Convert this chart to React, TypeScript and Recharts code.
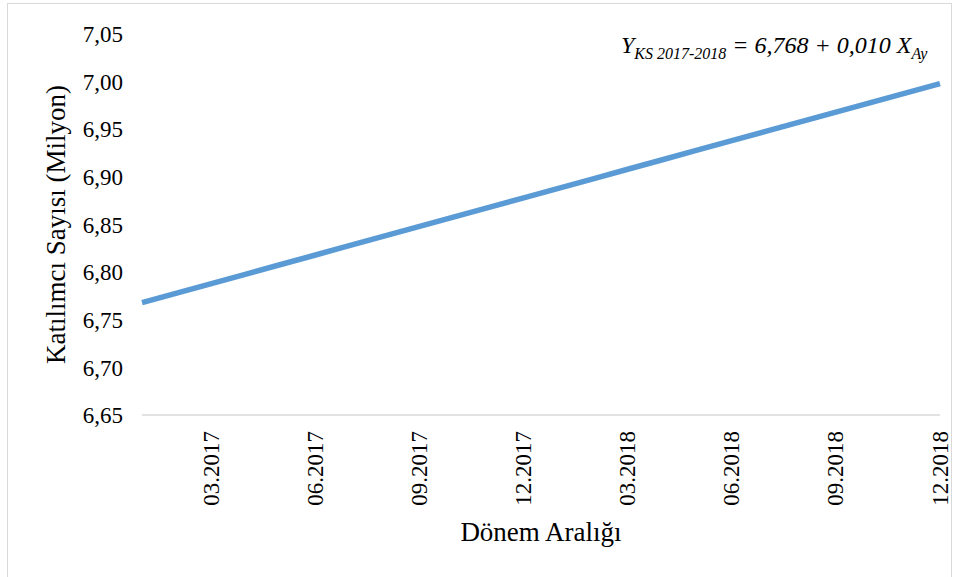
import { LineChart, Line, XAxis, YAxis } from 'recharts';

const FONT = 'Liberation Serif';
const LINE = '#5b9bd5';
const AXIS_LINE = '#d9d9d9';

const months = [
  '01.2017', '02.2017', '03.2017', '04.2017', '05.2017', '06.2017',
  '07.2017', '08.2017', '09.2017', '10.2017', '11.2017', '12.2017',
  '01.2018', '02.2018', '03.2018', '04.2018', '05.2018', '06.2018',
  '07.2018', '08.2018', '09.2018', '10.2018', '11.2018', '12.2018',
];

const participants = [
  6.768, 6.778, 6.788, 6.798, 6.808, 6.818,
  6.828, 6.838, 6.848, 6.858, 6.868, 6.878,
  6.888, 6.898, 6.908, 6.918, 6.928, 6.938,
  6.948, 6.958, 6.968, 6.978, 6.988, 6.998,
];

const shownMonths = [
  '03.2017', '06.2017', '09.2017', '12.2017',
  '03.2018', '06.2018', '09.2018', '12.2018',
];

const yTicks = [6.65, 6.7, 6.75, 6.8, 6.85, 6.9, 6.95, 7.0, 7.05];

const rows = months.map((m, i) => ({ month: m, value: participants[i] }));

// only every third month gets a label, written bottom-to-top like Excel
function MonthTick({ x, payload }: any) {
  if (!shownMonths.includes(payload.value)) return null;
  return (
    <text
      x={x}
      y={431}
      transform={`rotate(-90, ${x}, 431)`}
      textAnchor="end"
      dy="0.33em"
      fontFamily={FONT}
      fontSize={23}
      fill="#000"
    >
      {payload.value}
    </text>
  );
}

export default function App() {
  return (
    <div style={{ position: 'absolute', left: 0, top: 0, width: 956, height: 577, background: '#fff', overflow: 'hidden', fontFamily: FONT }}>
      <div
        style={{
          position: 'absolute',
          left: 7,
          top: 3,
          width: 945,
          height: 640,
          border: `1.5px solid ${AXIS_LINE}`,
          boxSizing: 'border-box',
        }}
      />
      <div style={{ position: 'absolute', left: 0, top: 0 }}>
        <LineChart
          width={956}
          height={577}
          data={rows}
          margin={{ top: 34, right: 16, left: 0, bottom: 0 }}
        >
          <XAxis
            dataKey="month"
            interval={0}
            height={162}
            tick={<MonthTick />}
            tickLine={false}
            axisLine={{ stroke: AXIS_LINE, strokeWidth: 1.5 }}
            label={{
              value: 'Dönem Aralığı',
              position: 'insideBottom',
              offset: 36,
              fontFamily: FONT,
              fontSize: 27,
              fill: '#000',
            }}
          />
          <YAxis
            width={142}
            domain={[6.65, 7.05]}
            ticks={yTicks}
            allowDataOverflow
            tickLine={false}
            axisLine={false}
            tickSize={17}
            tickMargin={2}
            tickFormatter={(v: number) => v.toFixed(2).replace('.', ',')}
            tick={{ fontFamily: FONT, fontSize: 23, fill: '#000' }}
            label={{
              value: 'Katılımcı Sayısı (Milyon)',
              angle: -90,
              position: 'insideLeft',
              offset: 55,
              fontFamily: FONT,
              fontSize: 27,
              fill: '#000',
              style: { textAnchor: 'middle' },
            }}
          />
          <Line
            type="linear"
            dataKey="value"
            stroke={LINE}
            strokeWidth={5.5}
            dot={false}
            activeDot={false}
            isAnimationActive={false}
          />
        </LineChart>
      </div>
      <div
        style={{
          position: 'absolute',
          left: 621,
          top: 32,
          fontFamily: FONT,
          fontStyle: 'italic',
          fontSize: 24,
          whiteSpace: 'nowrap',
          color: '#000',
        }}
      >
        Y<sub style={{ fontSize: 16 }}>KS 2017-2018</sub> = 6,768 + 0,010 X<sub style={{ fontSize: 16 }}>Ay</sub>
      </div>
    </div>
  );
}
